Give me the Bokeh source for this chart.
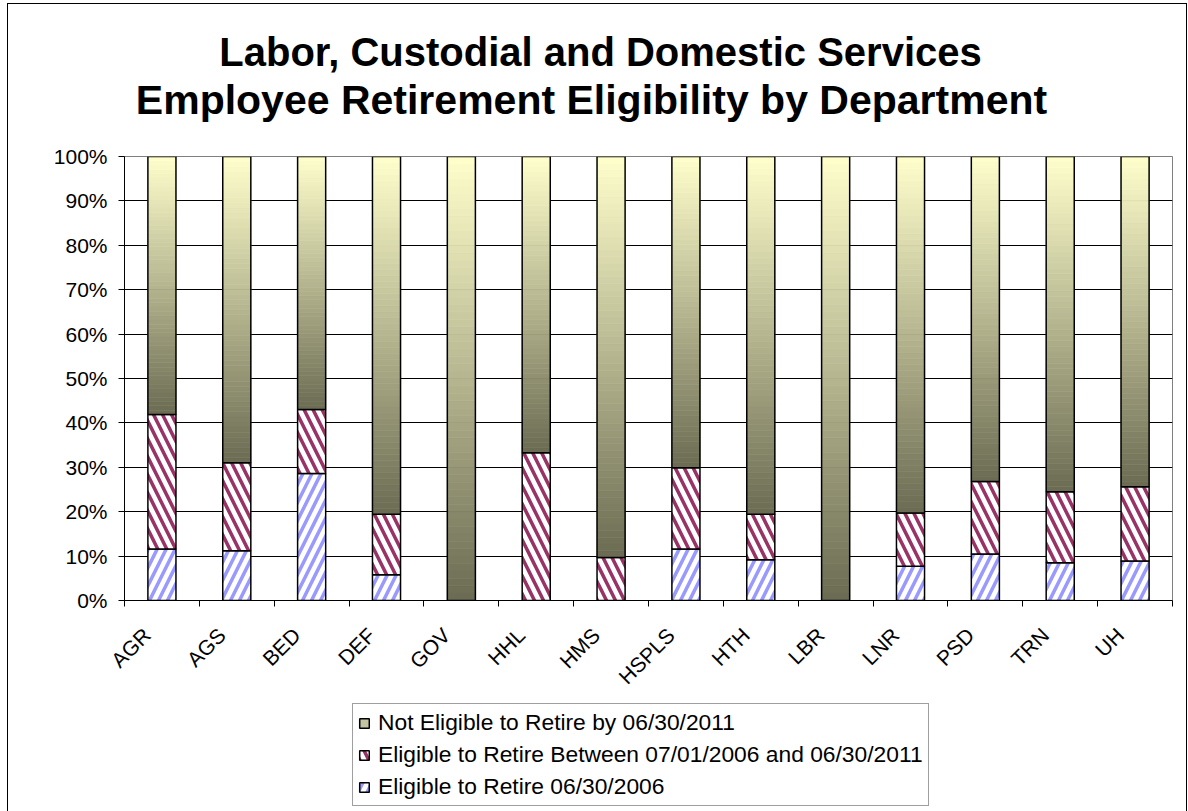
import numpy as np
from math import pi
from bokeh.plotting import figure
from bokeh.layouts import column
from bokeh.models import (Range1d, FixedTicker, Label, Legend, LegendItem,
                          PrintfTickFormatter, ColumnDataSource)
from bokeh.embed import file_html
from bokeh.resources import INLINE

# ---------------- data ----------------
departments = ["AGR", "AGS", "BED", "DEF", "GOV", "HHL", "HMS", "HSPLS",
               "HTH", "LBR", "LNR", "PSD", "TRN", "UH"]
eligible_2006 = [11.6, 11.2, 28.6, 5.8, 0.0, 0.0, 0.0, 11.6, 9.2, 0.0, 7.7, 10.5, 8.5, 8.9]
eligible_2006_2011 = [30.3, 19.8, 14.4, 13.6, 0.0, 33.3, 9.7, 18.3, 10.2, 0.0, 12.0, 16.3, 16.0, 16.7]
not_eligible = [58.1, 69.0, 57.0, 80.6, 100.0, 66.7, 90.3, 70.1, 80.6, 100.0, 80.3, 73.2, 75.5, 74.4]
series_names = ["Not Eligible to Retire by 06/30/2011",
                "Eligible to Retire Between 07/01/2006 and 06/30/2011",
                "Eligible to Retire 06/30/2006"]
y_ticks = [0, 10, 20, 30, 40, 50, 60, 70, 80, 90, 100]
title_lines = ["Labor, Custodial and Domestic Services",
               "Employee Retirement Eligibility by Department"]

FONT = "Liberation Sans"
W = 1178
BL, BR = 116, 14          # shared left/right borders (frames are aligned in the column)
FW = W - BL - BR          # frame width in px
n = len(departments)
xc = np.arange(n) + 0.5
e1 = np.array(eligible_2006)
e2 = np.array(eligible_2006_2011)
ne = np.array(not_eligible)
top1 = e1
top2 = e1 + e2
top3 = top2 + ne
BW = 0.375

BLUE_KW = dict(fill_color="white", hatch_pattern="/", hatch_color="#9999FF",
               hatch_weight=3.5, hatch_scale=18, line_color="black", line_width=1.5)
RED_KW = dict(fill_color="white", hatch_pattern="\\", hatch_color="#993366",
              hatch_weight=3.5, hatch_scale=18, line_color="black", line_width=1.5)
GRAD_KW = dict(fill_color="#C4C4A2", line_color="black", line_width=1.5)

# ---------------- title strip ----------------
TH = 130
tfig = figure(width=W, height=TH, output_backend="svg", toolbar_location=None,
              x_range=Range1d(0, FW), y_range=Range1d(0, TH),
              x_axis_type=None, y_axis_type=None, min_border=0,
              min_border_left=BL, min_border_right=BR)
tfig.outline_line_color = None
tfig.grid.visible = False
tfig.add_layout(Label(x=592 - BL, y=83, text=title_lines[0], text_align="center",
                      text_baseline="alphabetic", text_font=FONT,
                      text_font_size="40px", text_font_style="bold",
                      text_color="black"))
tfig.add_layout(Label(x=583 - BL, y=35, text=title_lines[1], text_align="center",
                      text_baseline="alphabetic", text_font=FONT,
                      text_font_size="41px", text_font_style="bold",
                      text_color="black"))

# ---------------- main chart ----------------
MB = 100
MH = 22 + 444 + MB
p = figure(width=W, height=MH, output_backend="svg", toolbar_location=None,
           title=None, x_range=Range1d(0, n), y_range=Range1d(0, 100),
           min_border_left=BL, min_border_right=BR, min_border_top=22,
           min_border_bottom=MB)
p.outline_line_color = "#808080"
p.outline_line_width = 1

p.xgrid.visible = False
p.ygrid.ticker = FixedTicker(ticks=y_ticks[1:-1])
p.ygrid.grid_line_color = "black"
p.ygrid.grid_line_width = 1

p.yaxis.ticker = FixedTicker(ticks=y_ticks)
p.yaxis.formatter = PrintfTickFormatter(format="%d%%")
p.yaxis.major_tick_out = 6
p.yaxis.major_tick_in = 0
p.yaxis.minor_tick_line_color = None
p.yaxis.axis_line_color = "black"
p.yaxis.major_tick_line_color = "black"
p.yaxis.major_label_text_font = FONT
p.yaxis.major_label_text_font_size = "21px"
p.yaxis.major_label_text_color = "black"
p.yaxis.major_label_standoff = 11

# category labels sit slightly left of the bar centre (as in the original)
label_pos = [round(float(v) - 0.2, 3) for v in xc]
p.xaxis.ticker = FixedTicker(ticks=label_pos, minor_ticks=list(range(n + 1)))
p.xaxis.major_label_overrides = {v: d for v, d in zip(label_pos, departments)}
p.xaxis.major_tick_line_color = None
p.xaxis.major_tick_out = 0
p.xaxis.major_tick_in = 0
p.xaxis.minor_tick_line_color = "black"
p.xaxis.minor_tick_out = 6
p.xaxis.minor_tick_in = 0
p.xaxis.axis_line_color = "black"
p.xaxis.major_label_orientation = pi / 4
p.xaxis.major_label_text_font = FONT
p.xaxis.major_label_text_font_size = "21px"
p.xaxis.major_label_text_color = "black"
p.xaxis.major_label_standoff = 25

p.vbar(x=xc, width=BW, bottom=0, top=top1, **BLUE_KW)
p.vbar(x=xc, width=BW, bottom=top1, top=top2, **RED_KW)

# gradient segment (light top -> dark bottom), thin slices of each segment
NS = 60
dark = np.array([0x6B, 0x6B, 0x53], dtype=float)
light = np.array([0xFF, 0xFF, 0xCC], dtype=float)
sx, sb, st, sc = [], [], [], []
for i in range(n):
    h = top3[i] - top2[i]
    if h <= 0:
        continue
    for k in range(NS):
        f = (k + 0.5) / NS
        c = dark + (light - dark) * f
        sx.append(xc[i])
        sb.append(top2[i] + h * k / NS)
        st.append(top2[i] + h * (k + 1) / NS)
        sc.append("#%02x%02x%02x" % tuple(int(round(v)) for v in c))
src = ColumnDataSource(dict(x=sx, bottom=sb, top=st, color=sc))
p.vbar(x="x", width=BW, bottom="bottom", top="top", fill_color="color",
       line_color="color", line_width=0.6, source=src)
p.vbar(x=xc, width=BW, bottom=top2, top=top3, fill_color=None,
       line_color="black", line_width=1.5)

# ---------------- legend strip ----------------
LH = 811 - 4 - TH - MH
lfig = figure(width=W, height=LH, output_backend="svg", toolbar_location=None,
              x_range=Range1d(0, 1), y_range=Range1d(0, 1),
              x_axis_type=None, y_axis_type=None, min_border=0,
              min_border_left=BL, min_border_right=BR)
lfig.outline_line_color = None
lfig.grid.visible = False
# tiny proxies hidden under the opaque legend box; they only feed the swatches
lg_grad = lfig.vbar(x=[0.5], width=0.005, bottom=[0.45], top=[0.46], **GRAD_KW)
lg_red = lfig.vbar(x=[0.5], width=0.005, bottom=[0.45], top=[0.46], **RED_KW)
lg_blue = lfig.vbar(x=[0.5], width=0.005, bottom=[0.45], top=[0.46], **BLUE_KW)
LEG_H = 103
LEG_TOP = 703 - (4 + TH + MH)
legend = Legend(items=[LegendItem(label=series_names[0], renderers=[lg_grad]),
                       LegendItem(label=series_names[1], renderers=[lg_red]),
                       LegendItem(label=series_names[2], renderers=[lg_blue])],
                location=(352 - 8 - BL, LH - LEG_TOP - LEG_H), orientation="vertical",
                label_text_font=FONT, label_text_font_size="22.8px",
                label_text_color="black", label_height=20, glyph_height=12,
                glyph_width=12, spacing=5, padding=5, label_standoff=8,
                border_line_color="#404040", border_line_width=1,
                background_fill_color="white", background_fill_alpha=1,
                margin=0)
lfig.add_layout(legend, "center")

layout = column(tfig, p, lfig, spacing=0)
layout.styles = {"outline": "1px solid black", "margin-left": "8px", "margin-top": "4px"}

open("out.html", "w").write(file_html(layout, INLINE))
